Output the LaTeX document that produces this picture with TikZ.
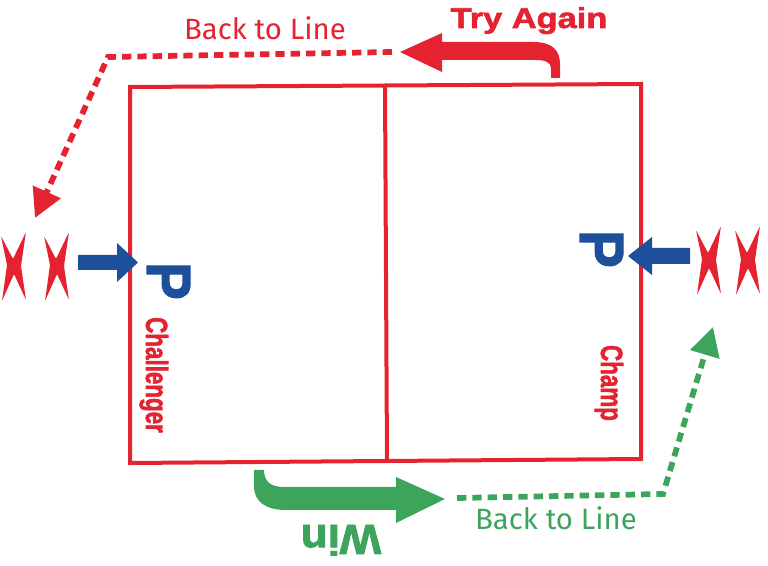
\documentclass[tikz,border=0pt]{standalone}
\usepackage{fontspec}
\usepackage{graphicx}
\setmainfont{Liberation Sans}
\newfontfamily\heavyfont{Liberation Sans}[BoldFeatures={FakeBold=2}]
\newfontfamily\handfont{Fira Sans}
\usetikzlibrary{arrows.meta}
\definecolor{cred}{HTML}{E52330}
\definecolor{cblue}{HTML}{1E4F9B}
\definecolor{cgreen}{HTML}{3DA45C}
\tikzset{
  court/.style={draw=cred, line width=3pt, line join=miter},
  dashline/.style={line width=4.3pt, dash pattern=on 7pt off 4.5pt},
  bigtip/.style={-{Triangle[length=21.5pt,width=22pt]}},
  lbl/.style={inner sep=0pt, outer sep=0pt},
  xmark/.pic={\fill[cred, rounded corners=1pt]
     (-13,-30) -- (-1,-7) -- (12,-34) -- (7,0) -- (12,34) -- (0,8) -- (-12,35) -- (-7,-1) -- cycle;}
}
\begin{document}
\begin{tikzpicture}[x=0.75pt,y=-0.75pt]
\useasboundingbox (0,0) rectangle (768,566);

% court
\draw[court] (130,87) -- (641,84) -- (641,459) -- (130,463) -- cycle;
\draw[court] (385,86) -- (387,461);

% players in line
\pic at (14,266) {xmark};
\pic at (57,266) {xmark};
\pic at (709,260) {xmark};
\pic at (748,260) {xmark};

% blue arrows
\fill[cblue] (78,255) -- (117,255) -- (117,243) -- (138,262.5) -- (117,282) -- (117,270) -- (78,270) -- cycle;
\fill[cblue] (690,248) -- (652,248) -- (652,237) -- (628,256) -- (652,275) -- (652,264) -- (690,264) -- cycle;

% P letters
\node[lbl, text=cblue, anchor=base, rotate=-90] (pl) at (147,281)
  {\fontsize{47}{47}\selectfont\heavyfont\bfseries \scalebox{0.9}[1]{P}};
\node[lbl, text=cblue, anchor=base, rotate=-90] (pr) at (580,249)
  {\fontsize{47}{47}\selectfont\heavyfont\bfseries \scalebox{0.9}[1]{P}};

% side labels
\node[lbl, text=cred, anchor=base, rotate=-90] (chal) at (146,375)
  {\fontsize{23}{23}\selectfont\heavyfont\bfseries \scalebox{0.73}[1]{Challenger}};
\node[lbl, text=cred, anchor=base, rotate=-90] (champ) at (601,383)
  {\fontsize{23}{23}\selectfont\heavyfont\bfseries \scalebox{0.73}[1]{Champ}};

% Try Again arrow
\fill[cred] (400,52) -- (442,33) -- (442,42) -- (533,42)
  .. controls (552,42) and (560,50) .. (560,64) -- (560,78) -- (551,78) -- (551,68)
  .. controls (551,63) and (546,60) .. (536,60) -- (442,60) -- (442,72) -- cycle;
\node[lbl, text=cred, anchor=base] (try) at (529,28)
  {\fontsize{21.5}{21.5}\selectfont\heavyfont\bfseries \scalebox{1.2}[1]{Try Again}};

% Win arrow
\fill[cgreen] (254,470) -- (254,486) .. controls (254,502) and (266,510) .. (286,510)
  -- (396,510) -- (396,523) -- (445,499) -- (396,477) -- (396,487) -- (284,487)
  .. controls (270,487) and (264,481) .. (264,470) -- cycle;
\node[lbl, text=cgreen, anchor=base, rotate=180] (win) at (341,525)
  {\fontsize{31.5}{31.5}\selectfont\heavyfont\bfseries \scalebox{1.05}[1]{Win}};

% back to line connectors
\coordinate (r1) at (392,52);
\coordinate (r2) at (108,57);
\coordinate (r3) at (35,218);
\draw[cred, dashline, bigtip] (r1) -- (r2) -- (r3);
\node[lbl, text=cred, anchor=base] (btl1) at (265,40)
  {\fontsize{22}{22}\selectfont\handfont Back to Line};

\coordinate (g1) at (457,498);
\coordinate (g2) at (663,494);
\coordinate (g3) at (713,327);
\draw[cgreen, dashline, bigtip] (g1) -- (g2) -- (g3);
\node[lbl, text=cgreen, anchor=base] (btl2) at (556,530)
  {\fontsize{22}{22}\selectfont\handfont Back to Line};
\end{tikzpicture}
\end{document}
